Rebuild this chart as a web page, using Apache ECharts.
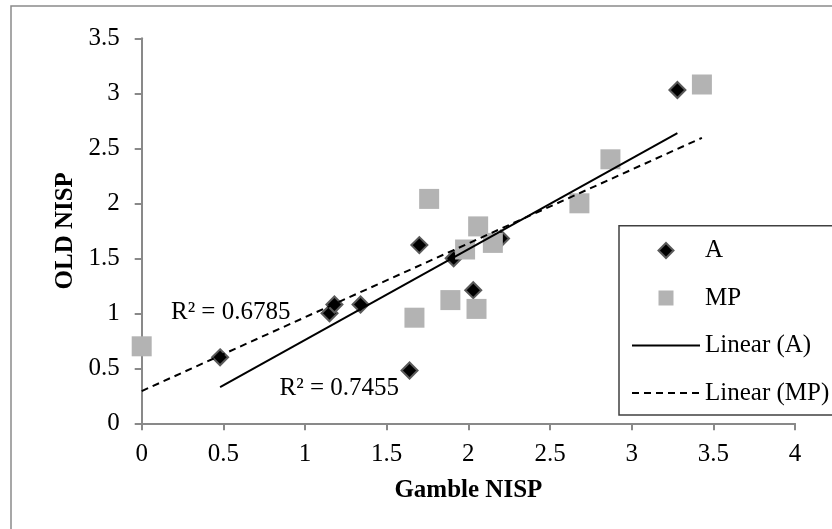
<!DOCTYPE html>
<html>
<head>
<meta charset="utf-8">
<title>NISP</title>
<style>
    html, body { margin: 0; padding: 0; background: #fff; }
    #chart { width: 832px; height: 529px; }
</style>
<script src="https://cdn.jsdelivr.net/npm/echarts@6/dist/echarts.min.js"></script>
</head>
<body>
<div id="chart"></div>
<script>
    // A (diamonds)
    let aX = [0.48, 1.15, 1.18, 1.34, 1.64, 1.70, 1.91, 2.03, 2.20, 3.28]
    let aY = [0.60, 1.00, 1.08, 1.08, 0.48, 1.62, 1.50, 1.21, 1.68, 3.03]
    // MP (squares)
    let mpX = [0, 1.67, 1.76, 1.89, 1.98, 2.05, 2.06, 2.15, 2.68, 2.87, 3.43]
    let mpY = [0.70, 0.96, 2.04, 1.12, 1.58, 1.04, 1.79, 1.64, 2.00, 2.40, 3.08]
    // r² text shown next to each trendline, and where it sits (data units)
    let r2Text = ['R² = 0.7455', 'R² = 0.6785']
    let r2At = [[1.21, 0.32], [0.545, 1.007]]
    let legendNames = ['A', 'MP', 'Linear (A)', 'Linear (MP)']

    let font = "'Liberation Serif', 'Times New Roman', serif"

    function pairs(xs, ys) {
        return xs.map(function (x, i) { return [x, ys[i]] })
    }

    // least squares line, drawn from the smallest to the largest x
    function linearFit(xs, ys) {
        let n = xs.length
        let mx = xs.reduce((s, v) => s + v, 0) / n
        let my = ys.reduce((s, v) => s + v, 0) / n
        let sxy = 0, sxx = 0
        for (let i = 0; i < n; i++) {
            sxy += (xs[i] - mx) * (ys[i] - my)
            sxx += (xs[i] - mx) * (xs[i] - mx)
        }
        let k = sxy / sxx
        let b = my - k * mx
        let x0 = Math.min.apply(null, xs), x1 = Math.max.apply(null, xs)
        return [[x0, b + k * x0], [x1, b + k * x1]]
    }

    function r2Mark(i) {
        return {
            symbol: 'circle',
            symbolSize: 1,
            itemStyle: { color: 'rgba(0,0,0,0)' },
            label: {
                show: true,
                position: 'inside',
                formatter: r2Text[i],
                fontFamily: font,
                fontSize: 25,
                color: '#000'
            },
            data: [{ coord: r2At[i] }]
        }
    }

    let axisCommon = {
        type: 'value',
        interval: 0.5,
        min: 0,
        nameLocation: 'middle',
        nameTextStyle: { fontFamily: font, fontSize: 25, fontWeight: 'bold', color: '#000' },
        axisLine: { show: true, lineStyle: { color: '#898989', width: 2 } },
        axisTick: { show: true, inside: false, length: 7, lineStyle: { color: '#898989', width: 2 } },
        axisLabel: { fontFamily: font, fontSize: 25, color: '#000' },
        splitLine: { show: false }
    }

    // hide the dot that line series put in their legend icon
    let noDot = { color: 'rgba(0,0,0,0)', borderColor: 'rgba(0,0,0,0)', borderWidth: 0 }

    echarts.init(document.getElementById('chart')).setOption({
        animation: false,
        backgroundColor: '#fff',
        graphic: [{
            // chart area frame, runs off the right and bottom edges
            type: 'polyline',
            silent: true,
            shape: { points: [[860, 6], [11, 6], [11, 540]] },
            style: { fill: 'none', stroke: '#8a8a8a', lineWidth: 1.5 }
        }, {
            // legend frame, open on the right where it leaves the picture
            type: 'polyline',
            silent: true,
            shape: { points: [[860, 225.7], [619, 225.7], [619, 415], [860, 415]] },
            style: { fill: 'none', stroke: '#404040', lineWidth: 1.5 }
        }],
        grid: { left: 141.7, right: 37, top: 38.3, bottom: 105.7 },
        xAxis: Object.assign({}, axisCommon, {
            max: 4,
            name: 'Gamble NISP',
            nameGap: 55,
            axisLabel: Object.assign({}, axisCommon.axisLabel, { margin: 19 })
        }),
        yAxis: Object.assign({}, axisCommon, {
            max: 3.5,
            name: 'OLD NISP',
            nameGap: 63,
            axisLabel: Object.assign({}, axisCommon.axisLabel, { margin: 22 })
        }),
        legend: {
            orient: 'vertical',
            left: 619,
            top: 226,
            z: 10,
            padding: [12, 4, 12, 12],
            itemWidth: 68,
            itemHeight: 15,
            itemGap: 22.5,
            symbolKeepAspect: true,
            textStyle: { fontFamily: font, fontSize: 25, color: '#000' },
            data: [
                { name: legendNames[0], icon: 'path://M0,-1L1,0L0,1L-1,0Z' },
                { name: legendNames[1], icon: 'path://M0,0H1V1H0Z' },
                { name: legendNames[2], itemStyle: noDot },
                { name: legendNames[3], itemStyle: noDot }
            ]
        },
        series: [{
            name: legendNames[0],
            type: 'scatter',
            symbol: 'diamond',
            symbolSize: 16,
            itemStyle: { color: '#000', borderColor: '#5a5a5a', borderWidth: 2, opacity: 1 },
            data: pairs(aX, aY)
        }, {
            name: legendNames[1],
            type: 'scatter',
            symbol: 'rect',
            symbolSize: 20,
            itemStyle: { color: '#b3b3b3', opacity: 1 },
            data: pairs(mpX, mpY)
        }, {
            name: legendNames[2],
            type: 'line',
            symbol: 'none',
            lineStyle: { color: '#000', width: 2 },
            itemStyle: { color: '#000' },
            data: linearFit(aX, aY),
            markPoint: r2Mark(0)
        }, {
            name: legendNames[3],
            type: 'line',
            symbol: 'none',
            lineStyle: { color: '#000', width: 2, type: [7, 5] },
            itemStyle: { color: '#000' },
            data: linearFit(mpX, mpY),
            markPoint: r2Mark(1)
        }]
    }, true)
</script>
</body>
</html>
